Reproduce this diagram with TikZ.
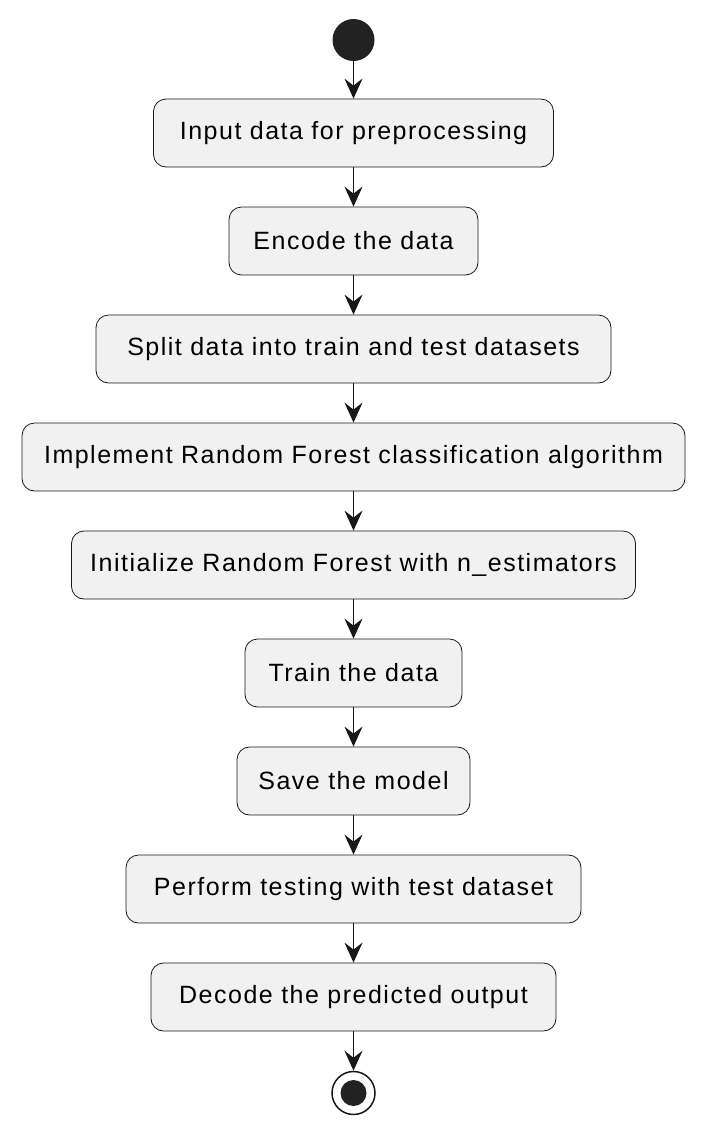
\documentclass[tikz,border=0pt]{standalone}
\usepackage{fontspec}
\setmainfont{Liberation Sans}[LetterSpace=6]
\usetikzlibrary{arrows.meta}
\definecolor{boxfill}{HTML}{F1F1F1}
\definecolor{boxline}{HTML}{181818}
\definecolor{dotfill}{HTML}{222222}
\begin{document}
\begin{tikzpicture}[x=1pt,y=-1pt,
  act/.style={draw=boxline, fill=boxfill, line width=0.8pt, rounded corners=12.5pt,
    minimum height=68pt, inner sep=0pt, font=\fontsize{25}{30}\selectfont, text=black},
  flow/.style={draw=boxline, line width=1.8pt, -{Stealth[length=20pt,width=18pt,inset=7pt]}}]
\useasboundingbox (0,0) rectangle (708,1136);
\node[circle, fill=dotfill, minimum size=42pt, inner sep=0pt] (start) at (353.5,40) {};
\node[act, minimum width=400pt] (a1) at (353.5,133) {Input data for preprocessing};
\node[act, minimum width=249pt] (a2) at (353.5,241) {Encode the data};
\node[act, minimum width=515pt] (a3) at (353.5,349) {Split data into train and test datasets};
\node[act, minimum width=663pt] (a4) at (353.5,457) {Implement Random Forest classification algorithm};
\node[act, minimum width=564pt] (a5) at (353.5,565) {Initialize Random Forest with n\_estimators};
\node[act, minimum width=217pt] (a6) at (353.5,673) {Train the data};
\node[act, minimum width=233pt] (a7) at (353.5,781) {Save the model};
\node[act, minimum width=455pt] (a8) at (353.5,889) {Perform testing with test dataset};
\node[act, minimum width=405pt] (a9) at (353.5,997) {Decode the predicted output};
\node[circle, draw=boxline, line width=1.5pt, fill=white, minimum size=43pt, inner sep=0pt] (end) at (353.5,1093) {};
\fill[dotfill] (end.center) circle (13pt);
\draw[flow] (start) -- (a1);
\draw[flow] (a1) -- (a2);
\draw[flow] (a2) -- (a3);
\draw[flow] (a3) -- (a4);
\draw[flow] (a4) -- (a5);
\draw[flow] (a5) -- (a6);
\draw[flow] (a6) -- (a7);
\draw[flow] (a7) -- (a8);
\draw[flow] (a8) -- (a9);
\draw[flow] (a9) -- (end);
\end{tikzpicture}
\end{document}
